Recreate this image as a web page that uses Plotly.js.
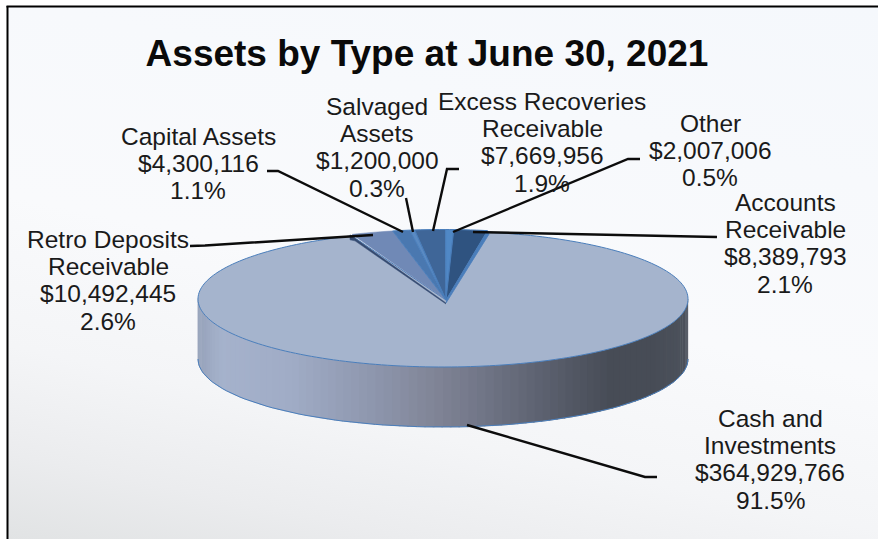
<!DOCTYPE html>
<html>
<head>
<meta charset="utf-8">
<script src="https://cdn.plot.ly/plotly-3.0.1.min.js"></script>
<style>
html,body{margin:0;padding:0;background:#fff;width:878px;height:539px;overflow:hidden}
#bg{position:absolute;left:8px;top:7px;width:870px;height:532px;
background:linear-gradient(12deg,#e1e3e4 0%,#ebecee 12%,#f4f5f7 27%,#f9fafc 48%,#f7f9fc 75%,#f5f8fc 100%)}
#chart{position:absolute;left:0;top:0;width:878px;height:539px}
</style>
</head>
<body>
<div id="bg"></div>
<div id="chart"></div>
<script>
// ---- data ----
const titleText = "Assets by Type at June 30, 2021";
const categories = ["Retro Deposits Receivable","Capital Assets","Salvaged Assets","Excess Recoveries Receivable","Other","Accounts Receivable","Cash and Investments"];
const amounts = [10492445,4300116,1200000,7669956,2007006,8389793,364929766];
const percentLabels = ["2.6%","1.1%","0.3%","1.9%","0.5%","2.1%","91.5%"];
const nameLines = [["Retro Deposits","Receivable"],["Capital Assets"],["Salvaged","Assets"],["Excess Recoveries","Receivable"],["Other"],["Accounts","Receivable"],["Cash and","Investments"]];
const sliceColors = ["#7089b6","#4a78b0","#5a8ac2","#3f6698","#5088c6","#2f5380","#a5b4cd"];

// ---- placement ----
const labelX = [108,198,377,542,710,785,770];
const labelY = [239,136,106,101,123,202,418];
const lineStep = 27.4;
const leaders = [
  [[190,205,373],[246,245.5,235]],
  [[267,278,403],[171,171,232]],
  [[406,413],[198,232]],
  [[459,447,433],[169,169,231]],
  [[640,628,453],[159,159,232]],
  [[717,473],[237,232]],
  [[467,645,657],[425,477,477]]
];
const cx=443, cy=299, rx=245, ry=68, depth=60;
const apexX=446, apexY=300;
const startDeg=-21.8, stretch=1.05;   // the small slices are fanned out a little by perspective
const edgeBlue="#4a7ebb";

const total = amounts.reduce((a,b)=>a+b,0);
const rad = d=>d*Math.PI/180;
const px = d=>cx+rx*Math.sin(rad(d));
const py = d=>cy-ry*Math.cos(rad(d));

function lerpColor(stops,x){
  for(let i=0;i<stops.length-1;i++){
    const a=stops[i],b=stops[i+1];
    if(x<=b[0]){
      const t=Math.max(0,(x-a[0])/(b[0]-a[0]));
      const c=[0,1,2].map(k=>Math.round(a[1][k]+(b[1][k]-a[1][k])*t));
      return `rgb(${c[0]},${c[1]},${c[2]})`;
    }
  }
  const l=stops[stops.length-1][1];
  return `rgb(${l[0]},${l[1]},${l[2]})`;
}
const wallStops=[[198,[150,162,186]],[222,[165,178,204]],[290,[160,172,198]],[370,[142,151,174]],[435,[128,132,150]],[480,[113,118,135]],[560,[86,91,104]],[610,[71,76,86]],[650,[71,76,86]],[688,[76,82,92]]];

const traces=[];
function poly(x,y,fill,lineColor,lineWidth){
  traces.push({type:"scatter",mode:"lines",x:x,y:y,fill:"toself",fillcolor:fill,
    line:{color:lineColor||fill,width:lineWidth===undefined?0.5:lineWidth,simplify:false},hoverinfo:"skip",showlegend:false});
}

// side wall, one strip per 2 degrees around the front half
for(let t=90;t<270;t+=2){
  const xs=[],ys=[];
  const a=t,b=t+2.4;
  xs.push(px(a),px(b),px(b),px(a));
  ys.push(py(a),py(b),py(b)+depth,py(a)+depth);
  poly(xs,ys,lerpColor(wallStops,(px(a)+px(b))/2));
}
// outline of the lower rim
(function(){
  const xs=[],ys=[];
  for(let t=90;t<=270;t+=2){xs.push(px(t));ys.push(py(t)+depth);}
  traces.push({type:"scatter",mode:"lines",x:xs,y:ys,line:{color:edgeBlue,width:1},hoverinfo:"skip",showlegend:false});
})();

// slice angles from the amounts
const angles=[];
let cum=startDeg;
for(let i=0;i<amounts.length-1;i++){
  const next=cum+amounts[i]/total*360*stretch;
  angles.push([cum,next]);
  cum=next;
}
angles.push([cum,startDeg+360]);

function wedge(i,lineColor,lineWidth){
  const xs=[apexX],ys=[apexY];
  const [a,b]=angles[i];
  const n=Math.max(2,Math.ceil((b-a)/1.5));
  for(let k=0;k<=n;k++){
    const d=a+(b-a)*k/n;
    xs.push(px(d));
    ys.push(py(d)-(i<6?1.5:0));
  }
  xs.push(apexX);ys.push(apexY);
  poly(xs,ys,sliceColors[i],lineColor,lineWidth);
}
// cash slice first, everything else on top
wedge(6,edgeBlue,1);
// dark rim below the left edge of the first small slice, blue one at the right edge of the last
(function(){
  const a=angles[0][0];
  poly([apexX,px(a)-2,px(a)-2,px(a)+3,apexX],[apexY+3,py(a)-1,py(a)+4,py(a)+5,apexY+4],"#344a70","#344a70",0.5);
  const b=angles[5][1];
  poly([apexX,px(b),px(b)+1.5,apexX],[apexY+1,py(b)-1,py(b)+2,apexY+3],edgeBlue,edgeBlue,0.8);
})();
for(let i=0;i<6;i++) wedge(i,i===0?sliceColors[0]:edgeBlue,i===0?0.5:1);

// leader lines
leaders.forEach(l=>traces.push({type:"scatter",mode:"lines",x:l[0],y:l[1],
  line:{color:"#0c0c0c",width:2.4},hoverinfo:"skip",showlegend:false}));

// labels: one annotation per printed line for the source's tighter line spacing
const annotations=[];
categories.forEach((c,i)=>{
  const lines=nameLines[i].concat(["$"+amounts[i].toLocaleString("en-US"),percentLabels[i]]);
  lines.forEach((txt,k)=>annotations.push({
    x:labelX[i],y:labelY[i]+k*lineStep,xref:"x",yref:"y",text:txt,showarrow:false,
    xanchor:"center",yanchor:"middle",
    font:{family:"Liberation Sans, Arial, sans-serif",size:24.5,color:"#1a1a1a"}
  }));
});

const layout={
  width:878,height:539,margin:{l:0,r:0,t:0,b:0,pad:0},
  paper_bgcolor:"rgba(0,0,0,0)",plot_bgcolor:"rgba(0,0,0,0)",showlegend:false,
  title:{text:"<b>"+titleText+"</b>",x:427/878,xanchor:"center",xref:"paper",y:1-53/539,yanchor:"middle",
    font:{family:"Liberation Sans, Arial, sans-serif",size:37,color:"#0a0a0a"}},
  xaxis:{visible:false,range:[0,878],fixedrange:true},
  yaxis:{visible:false,range:[539,0],fixedrange:true},
  annotations:annotations,
  shapes:[
    {type:"line",xref:"x",yref:"y",x0:7.5,x1:7.5,y0:6,y1:539,line:{color:"#000",width:2}},
    {type:"line",xref:"x",yref:"y",x0:6.5,x1:878,y0:6.5,y1:6.5,line:{color:"#000",width:2}}
  ]
};
Plotly.newPlot("chart",traces,layout,{displayModeBar:false,staticPlot:true});
</script>
</body>
</html>
